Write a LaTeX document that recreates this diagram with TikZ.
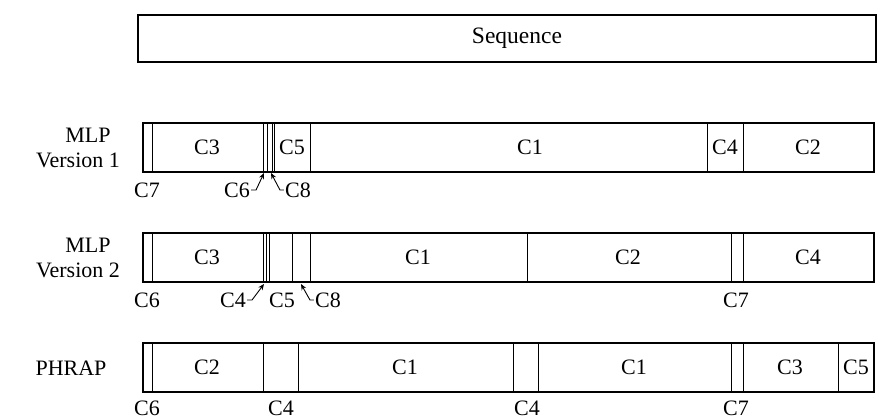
\documentclass[tikz,border=0pt]{standalone}
\usepackage{fontspec}
\setmainfont{Liberation Serif}
\usetikzlibrary{arrows.meta}
\begin{document}
\begin{tikzpicture}[x={(1pt,0)},y={(0,-1pt)},
  frame/.style={line width=1.1pt},
  cut/.style={line width=0.9pt},
  lbl/.style={inner sep=0pt,font=\fontsize{22}{26}\selectfont},
  seqlbl/.style={inner sep=0pt,font=\fontsize{23.5}{28}\selectfont},
  ptr/.style={line width=0.9pt,-{Stealth[length=6pt,width=5pt]}}]
\useasboundingbox (0,0) rectangle (879,419);

% whole sequence
\draw[frame] (138,15) rectangle (876,62);
\node[seqlbl] (seq) at (517,38) {Sequence};

% ---------- MLP version 1 ----------
\node[lbl] (m1a) at (88,135) {MLP};
\node[lbl] (m1b) at (78,160) {Version 1};
\draw[frame] (143,123) rectangle (874,172);
\foreach \x in {152,263,267,272,274.5,310,707,743}
  \draw[cut] (\x,123) -- (\x,172);
\node[lbl] (r1c3) at (207,147) {C3};
\node[lbl] (r1c5) at (292,147) {C5};
\node[lbl] (r1c1) at (530,147) {C1};
\node[lbl] (r1c4) at (725,147) {C4};
\node[lbl] (r1c2) at (808,147) {C2};
\node[lbl] (r1c7) at (147,190) {C7};
\node[lbl] (r1c6) at (237,190) {C6};
\node[lbl] (r1c8) at (298,190) {C8};
\coordinate (r1p6) at (264,173);
\coordinate (r1p8) at (271,173);
\draw[ptr] (r1c6.east) ++(1,0) -- ++(5,0) -- (r1p6);
\draw[ptr] (r1c8.west) ++(-1,0) -- ++(-4,0) -- (r1p8);

% ---------- MLP version 2 ----------
\node[lbl] (m2a) at (88,245) {MLP};
\node[lbl] (m2b) at (78,270) {Version 2};
\draw[frame] (143,233) rectangle (874,282);
\foreach \x in {152,263,266.5,269,292,310,527,731,743}
  \draw[cut] (\x,233) -- (\x,282);
\node[lbl] (r2c3) at (207,257) {C3};
\node[lbl] (r2c1) at (418,257) {C1};
\node[lbl] (r2c2) at (628,257) {C2};
\node[lbl] (r2c4) at (808,257) {C4};
\node[lbl] (r2c6) at (147,300) {C6};
\node[lbl] (r2c4b) at (233,300) {C4};
\node[lbl] (r2c5) at (282,300) {C5};
\node[lbl] (r2c8) at (328,300) {C8};
\node[lbl] (r2c7) at (736,300) {C7};
\coordinate (r2p4) at (264,284);
\coordinate (r2p8) at (301,284);
\draw[ptr] (r2c4b.east) ++(1,0) -- ++(5,0) -- (r2p4);
\draw[ptr] (r2c8.west) ++(-1,0) -- ++(-4,0) -- (r2p8);

% ---------- PHRAP ----------
\node[lbl] (ph) at (71,368) {PHRAP};
\draw[frame] (143,343) rectangle (874,392);
\foreach \x in {152,263,298,513,538,731,743,838}
  \draw[cut] (\x,343) -- (\x,392);
\node[lbl] (r3c2) at (207,367) {C2};
\node[lbl] (r3c1a) at (405,367) {C1};
\node[lbl] (r3c1b) at (634,367) {C1};
\node[lbl] (r3c3) at (790,367) {C3};
\node[lbl] (r3c5) at (856,367) {C5};
\node[lbl] (r3c6) at (147,408) {C6};
\node[lbl] (r3c4a) at (281,408) {C4};
\node[lbl] (r3c4b) at (527,408) {C4};
\node[lbl] (r3c7) at (736,408) {C7};
\end{tikzpicture}
\end{document}
